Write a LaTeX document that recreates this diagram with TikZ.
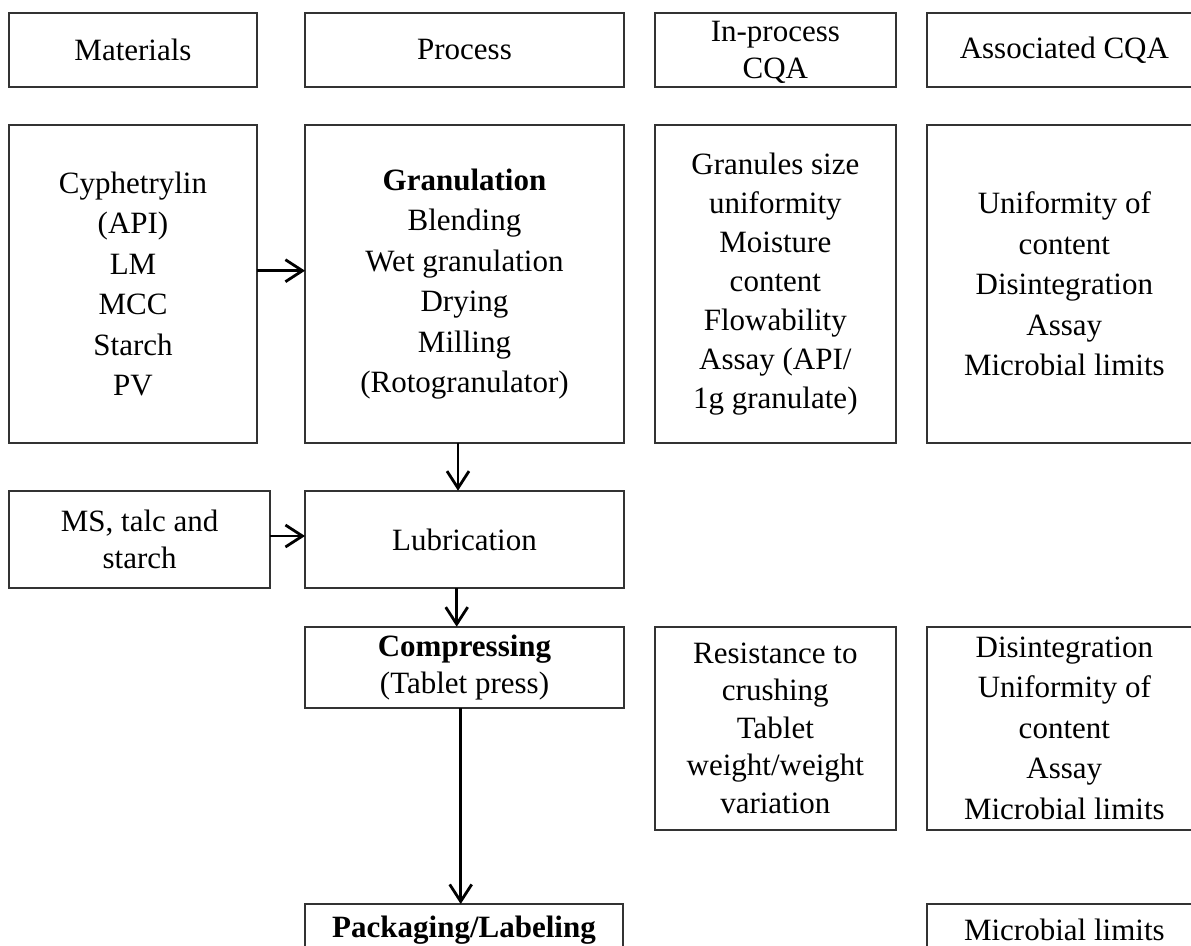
\documentclass[tikz,border=0pt]{standalone}
\usepackage{fontspec}
\setmainfont{Liberation Serif}
\usetikzlibrary{arrows.meta}
\definecolor{boxgray}{HTML}{333333}
\begin{document}
\begin{tikzpicture}[x=1pt,y=-1pt,
  box/.style={draw=boxgray, line width=2pt, anchor=north west, inner sep=0pt, outer sep=0pt,
              align=center, font=\fontsize{31}{40.5}\selectfont},
  tight/.style={font=\fontsize{31}{37.5}\selectfont},
  arr/.style={draw=black, line width=2.8pt, -{Straight Barb[length=17pt,width=22pt]}}]
\useasboundingbox (0,0) rectangle (1191,945);
\clip (0,0) rectangle (1191,945);

% header row
\node[box, minimum width=247.4pt, minimum height=74.6pt] (hmat) at (9.3,12.7) {Materials};
\node[box, minimum width=319pt, minimum height=74.6pt] (hproc) at (305,12.7) {Process};
\node[box, font=\fontsize{31}{37}\selectfont, minimum width=241.3pt, text height=65.8pt, text depth=8.8pt] (hin) at (654.7,12.7) {In-process\\CQA};
\node[box, minimum width=275.3pt, minimum height=74.6pt] (hass) at (926.7,12.7) {Associated CQA};

% granulation row
\node[box, minimum width=247.4pt, minimum height=317.7pt] (mat) at (9.3,125)
  {Cyphetrylin\\(API)\\LM\\MCC\\Starch\\PV};
\node[box, minimum width=319pt, minimum height=317.7pt] (proc) at (305,125)
  {\textbf{Granulation}\\Blending\\Wet granulation\\Drying\\Milling\\(Rotogranulator)};
\node[box, font=\fontsize{31}{39}\selectfont, minimum width=241.3pt, minimum height=317.7pt] (inA) at (654.7,125)
  {Granules size\\uniformity\\Moisture\\content\\Flowability\\Assay (API/\\1g granulate)};
\node[box, minimum width=275.3pt, minimum height=317.7pt] (assA) at (926.7,125)
  {Uniformity of\\content\\Disintegration\\Assay\\Microbial limits};

% lubrication row
\node[box, tight, minimum width=260.7pt, minimum height=97.6pt] (ms) at (9.3,490.7) {MS, talc and\\starch};
\node[box, minimum width=319pt, minimum height=97.6pt] (lub) at (305,490.7) {Lubrication};

% compressing row
\node[box, font=\fontsize{31}{36.5}\selectfont, minimum width=319pt, minimum height=81.3pt] (comp) at (305,626.7)
  {\textbf{Compressing}\\(Tablet press)};
\node[box, tight, minimum width=241.3pt, minimum height=203.5pt] (inB) at (654.7,626.5)
  {Resistance to\\crushing\\Tablet\\weight/weight\\variation};
\node[box, minimum width=275.3pt, minimum height=203.5pt] (assB) at (926.7,626.5)
  {Disintegration\\Uniformity of\\content\\Assay\\Microbial limits};

% packaging row
\node[box, anchor=north, minimum width=318pt, text height=33.5pt, text depth=50pt] (pack) at (464,904)
  {\textbf{Packaging/Labeling}};
\node[box, anchor=north, minimum width=275.3pt, text height=36pt, text depth=50pt] (micro) at (1064.35,904)
  {Microbial limits};

% connectors
\draw[arr] ([yshift=13.15pt]mat.east) -- ([yshift=13.15pt]proc.west);
\draw[arr] ([xshift=-6.5pt]proc.south) -- ([xshift=-6.5pt]lub.north);
\draw[arr] ([yshift=3.5pt]ms.east) -- ([yshift=3.5pt]lub.west);
\draw[arr] ([xshift=-7.8pt]lub.south) -- ([xshift=-7.8pt]comp.north);
\draw[arr] ([xshift=-3.8pt]comp.south) -- ([xshift=-3.3pt]pack.north);
\end{tikzpicture}
\end{document}
